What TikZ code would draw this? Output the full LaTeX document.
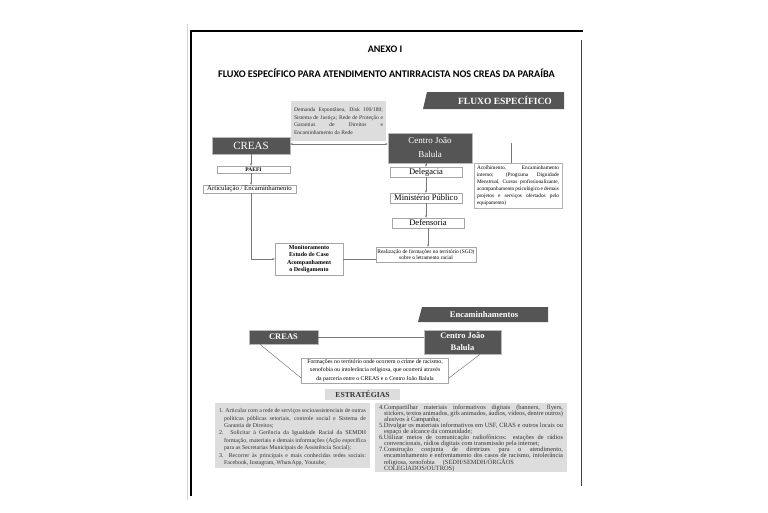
\documentclass[tikz,border=0pt]{standalone}
\usepackage{fontspec}
\setmainfont{Liberation Serif}
\newfontfamily\titlefont{Carlito}
\usetikzlibrary{arrows.meta}
\definecolor{boxgray}{HTML}{555555}
\definecolor{panelgray}{HTML}{DDDDDD}
\definecolor{linegray}{HTML}{777777}
\newcommand{\fsz}[2]{\fontsize{#1}{#2}\selectfont}
\newcommand{\estr}{\par\hangindent=5pt\hangafter=1 }

\begin{document}
\begin{tikzpicture}[x=1pt,y=-1pt,
  darkbox/.style={draw=gray!55,fill=boxgray,text=white,inner sep=0pt,align=center},
  whitebox/.style={draw=gray!70,fill=white,inner sep=0pt,align=center},
  panel/.style={fill=panelgray,inner xsep=4pt,inner ysep=0pt,align=justify},
  liga/.style={draw=linegray,line width=0.5pt},
  seta/.style={liga,-{Stealth[length=2.5pt,width=2pt]}}]
\useasboundingbox (0,0) rectangle (768,512);

% pagina
\draw[gray!35,line width=1pt] (187,24) -- (187,500);
\draw[line width=1.2pt] (191,496) -- (191,31) -- (583,31);
\draw[gray!50!black,line width=0.8pt] (581,40) -- (581,486);

% titulos
\node[font=\titlefont\bfseries\fsz{10}{11}] (anexo) at (385,49) {ANEXO I};
\node[font=\titlefont\bfseries\fsz{10.2}{11}] (titulo) at (386.5,73)
  {FLUXO ESPECÍFICO PARA ATENDIMENTO ANTIRRACISTA NOS CREAS DA PARAÍBA};

% faixa fluxo especifico
\fill[boxgray] (423,109) -- (427,92) -- (564,92) -- (564,109) -- cycle;
\node[text=white,font=\bfseries\fsz{9.5}{11}] (fluxo) at (505,100.5) {FLUXO ESPECÍFICO};

% demanda
\node[panel,text width=89pt,inner xsep=3pt,minimum height=40pt,text=black!80,
  font=\fsz{5.6}{7.5}] (demanda) at (338.5,121)
  {Demanda Espontânea, Disk 100/180;\linebreak Sistema de Justiça; Rede de Proteção e\linebreak
   Garantias de Direitos e\linebreak Encaminhamento da Rede};

% coluna CREAS
\node[darkbox,minimum width=78pt,minimum height=17pt,font=\fsz{11}{12}] (creas) at (251,145.5) {CREAS};
\node[whitebox,minimum width=73pt,minimum height=7pt,font=\bfseries\fsz{5.5}{6}] (paefi) at (253.5,169.5) {PAEFI};
\node[whitebox,minimum width=93pt,minimum height=8pt,font=\fsz{6.8}{7}] (artic) at (249.5,189) {Articulação / Encaminhamento};
\node[whitebox,minimum width=68pt,minimum height=32pt,font=\bfseries\fsz{6}{7.6}] (monit) at (309,259)
  {Monitoramento\\Estudo de Caso\\Acompanhament\\o Desligamento};

% coluna Centro Joao Balula
\node[darkbox,minimum width=84pt,minimum height=30pt,font=\fsz{9}{14}] (centro) at (430,148) {Centro João\\Balula};
\node[whitebox,minimum width=72pt,minimum height=10pt,font=\fsz{8.5}{9}] (deleg) at (426,172) {Delegacia};
\node[whitebox,minimum width=72pt,minimum height=10pt,font=\fsz{8.5}{9}] (minpub) at (426,198) {Ministério Público};
\node[whitebox,minimum width=72pt,minimum height=10pt,font=\fsz{8.5}{9}] (defens) at (428,223) {Defensoria};
\node[whitebox,minimum width=100pt,minimum height=15pt,font=\fsz{5.4}{6.6}] (realiz) at (426,254.5)
  {Realização de formações no território (SGD)\\sobre o letramento racial};

% acolhimento
\node[whitebox,draw=gray!60,text width=82pt,inner xsep=3pt,minimum height=45pt,align=justify,
  font=\fsz{5.3}{7}] (acol) at (518,185.5)
  {Acolhimento, Encaminhamento\linebreak interno; (Programa Dignidade\linebreak
   Menstrual, Cursos profissionalizante,\linebreak acompanhamento psicológico e demais\linebreak
   projetos e serviços ofertados pelo\linebreak equipamento)};
\coordinate (acoltop) at (511,143);

% ligacoes do fluxo
\coordinate (dupla) at ([yshift=1.5pt]creas.east);
\draw[liga,{Stealth[length=2.5pt,width=2pt]}-{Stealth[length=2.5pt,width=2pt]}] (dupla) -- (dupla -| centro.west);
\draw[seta] (creas.south) -- (creas.south |- paefi.north);
\draw[seta] (paefi.south -| creas.south) -- (creas.south |- artic.north);
\draw[seta] (artic.south -| creas.south) |- (monit.west);
\draw[liga] (monit.east) -- (monit.east -| realiz.west);
\draw[seta] (centro.south -| deleg.north) -- (deleg.north);
\draw[seta] (deleg.south) -- (minpub.north);
\draw[seta] (minpub.south) -- (minpub.south |- defens.north);
\draw[seta] (defens.south) -- (defens.south |- realiz.north);
\draw[liga] (acoltop) -- (acoltop |- acol.north);

% encaminhamentos
\fill[boxgray] (418,322) -- (422,307) -- (548,307) -- (548,322) -- cycle;
\node[text=white,font=\bfseries\fsz{8.6}{10}] (enc) at (484,314.5) {Encaminhamentos};
\node[darkbox,minimum width=69pt,minimum height=14pt,font=\bfseries\fsz{8.5}{10}] (creasB) at (283.5,337) {CREAS};
\node[darkbox,minimum width=77pt,minimum height=24pt,font=\bfseries\fsz{8.5}{12}] (centroB) at (462.5,342) {Centro João\\Balula};
\node[whitebox,minimum width=147pt,minimum height=25pt,font=\fsz{5.8}{8.3}] (formacao) at (375,370.5)
  {Formações no território onde ocorrem o crime de racismo,\\xenofobia ou intolerância religiosa, que ocorrerá através\\da parceria entre o CREAS e o Centro João Balula};
\draw[liga] (creasB.east) -- (creasB.east -| centroB.west);
\draw[liga] ([xshift=11pt]creasB.south west) -- ([yshift=5pt]formacao.south west);
\draw[liga] ([xshift=-21pt]centroB.south east) -- ([yshift=5pt]formacao.south east);

% estrategias
\node[fill=panelgray,minimum width=75pt,minimum height=11pt,inner sep=0pt,text=gray!40!black,
  font=\bfseries\fsz{7.7}{9}] (estrat) at (362.5,394.5) {ESTRATÉGIAS};
\node[panel,text width=147pt,minimum height=65pt,text=black!80,font=\fsz{5.9}{7.4}] (estrA) at (292.5,435.5)
  {\estr 1. Articular com a rede de serviços socioassistenciais de outras\linebreak
   políticas públicas setoriais, controle social e Sistema de\linebreak Garantia de Direitos;
   \estr 2. Solicitar à Gerência da Igualdade Racial da SEMDH\linebreak
   formação, materiais e demais informações (Ação específica\linebreak
   para as Secretarias Municipais de Assistência Social);
   \estr 3. Recorrer às principais e mais conhecidas redes sociais:\linebreak
   Facebook, Instagram, WhatsApp, Youtube;\par};
\node[panel,text width=184pt,minimum height=69pt,text=black!80,font=\fsz{6.4}{6}] (estrB) at (471,437.5)
  {\estr 4.Compartilhar materiais informativos digitais (banners, flyers,\linebreak
   stickers, textos animados, gifs animados, áudios, vídeos, dentre outros)\linebreak
   alusivos à Campanha;
   \estr 5.Divulgar os materiais informativos em USF, CRAS e outros locais ou\linebreak
   espaço de alcance da comunidade;
   \estr 6.Utilizar meios de comunicação radiofônicos: estações de rádios\linebreak
   convencionais, rádios digitais com transmissão pela internet;
   \estr 7.Construção conjunta de diretrizes para o atendimento,\linebreak
   encaminhamento e enfrentamento dos casos de racismo, intolerância\linebreak
   religiosa, xenofobia \quad (SEDH/SEMDH/ÓRGÃOS\\ COLEGIADOS/OUTROS)\par};
\end{tikzpicture}
\end{document}
